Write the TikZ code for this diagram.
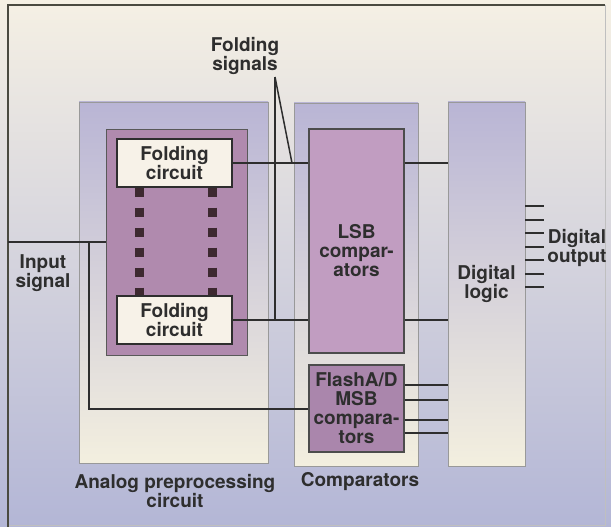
\documentclass[tikz,border=0pt]{standalone}
\usepackage{fontspec}
\setmainfont{TeX Gyre Heros}
\usetikzlibrary{positioning}
\definecolor{paper}{HTML}{F5F0E4}
\definecolor{haze}{HTML}{B3B6D6}
\definecolor{lilac}{HTML}{B9B5D5}
\definecolor{cream}{HTML}{F3EFDF}
\definecolor{mauve}{HTML}{B08AAE}
\definecolor{pinkmauve}{HTML}{C19DC1}
\definecolor{flashmauve}{HTML}{AA86AC}
\definecolor{chip}{HTML}{F7F2E8}
\definecolor{ink}{HTML}{2E2E2E}
\definecolor{frameline}{HTML}{4A4A40}
\begin{document}
\begin{tikzpicture}[x=1pt,y=-1pt,
colbox/.style={draw=black!40,line width=0.7pt,top color=lilac,bottom color=cream,inner sep=0pt},
groupbox/.style={draw=black!65,line width=1pt,fill=mauve,inner sep=0pt},
compbox/.style={draw=black!70,line width=1.1pt,fill=pinkmauve,inner sep=0pt},
foldbox/.style={draw=ink,line width=1.4pt,fill=chip,minimum width=115,minimum height=48,inner sep=0pt},
lbl/.style={font=\fontsize{19}{19}\selectfont\bfseries,align=center,text=ink,inner sep=0pt},
wire/.style={draw=ink,line width=2pt},
dots/.style={draw=ink!90!purple,line width=9pt,dash pattern=on 9pt off 11pt}]
\useasboundingbox (0,0) rectangle (611,527);
\fill[top color=paper,bottom color=haze] (0,0) rectangle (611,527);
\draw[black!25,line width=1pt] (8,525) -- (605,525) -- (605,5);
\draw[frameline,line width=1.8pt] (8,527) -- (8,5) -- (605,5);
% columns
\node[colbox,minimum width=189,minimum height=361] (analog) at (173.5,282.5) {};
\node[colbox,minimum width=124,minimum height=363] (comps) at (356,284.5) {};
\node[colbox,minimum width=77,minimum height=364,lbl] (logic) at (486.5,284) {Digital\\logic};
% blocks
\node[groupbox,minimum width=141,minimum height=226] (fold) at (176.5,242) {};
\node[foldbox,lbl] (foldtop) at (174.5,163) {Folding\\circuit};
\node[foldbox,lbl] (foldbot) at (174.5,320) {Folding\\circuit};
\node[compbox,minimum width=95,minimum height=224] (lsb) at (356.5,241) {};
\node[lbl] (lsbtext) at (356.5,251) {LSB\\compar-\\ators};
\node[compbox,fill=flashmauve,minimum width=95,minimum height=87,lbl] (flash) at (356.5,408.5) {FlashA/D\\MSB\\compara-\\tors};
\draw[dots] (foldtop.south -| 139,0) -- (foldbot.north -| 139,0);
\draw[dots] (foldtop.south -| 212,0) -- (foldbot.north -| 212,0);
% labels
\node[lbl] (foldsig) at (245,56) {Folding\\signals};
\node[lbl] (input) at (43,273) {Input\\signal};
\node[lbl] (dout) at (577,248) {Digital\\output};
\node[lbl] (analogcap) at (175,491) {Analog preprocessing\\circuit};
\node[lbl] (compcap) at (360,482) {Comparators};
% wiring
\coordinate (in) at (8,242);
\coordinate (split) at (89,242);
\coordinate (sigtop) at (275,77);
\coordinate (tap) at (292,163);
\draw[wire] (in) -- (in -| fold.west);
\draw[wire] (split) |- (flash.west);
\draw[wire] (foldtop.east) -- (foldtop.east -| lsb.west);
\draw[wire] (foldbot.east) -- (foldbot.east -| lsb.west);
\draw[wire,line width=1.5pt] (sigtop) -- (sigtop |- foldbot.east);
\draw[wire,line width=1.5pt] (sigtop) -- (tap);
\draw[wire] (lsb.east |- foldtop.east) -- (logic.west |- foldtop.east);
\draw[wire] (lsb.east |- foldbot.east) -- (logic.west |- foldbot.east);
\foreach \dy in {24,9,-11,-24}
  \draw[wire] ([yshift=\dy pt]flash.east) -- ([yshift=\dy pt]flash.east -| logic.west);
\foreach \i in {0,...,6}
  \draw[wire] ([yshift=78pt-13.5pt*\i]logic.east) -- ++(19,0);
\end{tikzpicture}
\end{document}
